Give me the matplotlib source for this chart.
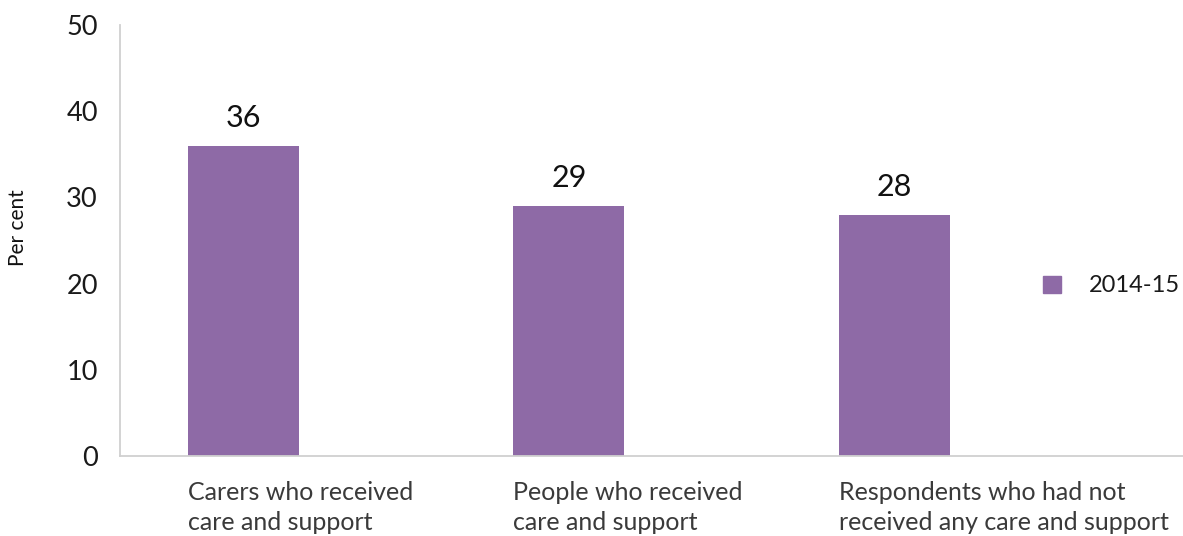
import matplotlib
matplotlib.use("Agg")
import matplotlib.pyplot as plt
from matplotlib.patches import Patch

categories = [
    "Carers who received\ncare and support",
    "People who received\ncare and support",
    "Respondents who had not\nreceived any care and support",
]
values = [36, 29, 28]
series_name = "2014-15"
y_ticks = [0, 10, 20, 30, 40, 50]

BAR_COLOR = "#8E6AA6"
AXIS_COLOR = "#D0D0D0"
FONT = "Lato"

W, H = 1183, 536
fig = plt.figure(figsize=(W / 100, H / 100), dpi=100)
# axes placed in pixel terms: left 120, right 1183, bottom 456, top 25
ax = fig.add_axes([120 / W, (H - 456) / H, (1183 - 120) / W, (456 - 25) / H])

x = list(range(len(categories)))
bar_w = 0.341
ax.bar(x, values, width=bar_w, color=BAR_COLOR, zorder=2)

ax.set_xlim(-0.379, 2.886)
ax.set_ylim(0, 50)
ax.set_yticks(y_ticks)
ax.set_yticklabels([str(t) for t in y_ticks], fontsize=19.5, family=FONT, color="#1a1a1a")
ax.tick_params(axis="y", length=0, pad=16)
ax.set_xticks([])

for s in ["top", "right"]:
    ax.spines[s].set_visible(False)
for s in ["left", "bottom"]:
    ax.spines[s].set_color(AXIS_COLOR)
    ax.spines[s].set_linewidth(1.3)

# value labels above bars
for xi, v in zip(x, values):
    ax.annotate(str(v), (xi, v), xytext=(0, 10), textcoords="offset points",
                ha="center", va="bottom", fontsize=22, family=FONT, color="#111111")

# category labels, left aligned with each bar's left edge
for xi, lab in zip(x, categories):
    ax.annotate(lab, (xi - bar_w / 2, 0), xytext=(0, -18), textcoords="offset points",
                ha="left", va="top", fontsize=18, family=FONT,
                color="#3a3a3a", linespacing=1.35, annotation_clip=False)

fig.text(18 / W, 1 - 228 / H, "Per cent", rotation=90, ha="center", va="center",
         fontsize=15, family=FONT, color="#111111")

leg = fig.legend(handles=[Patch(color=BAR_COLOR, label=series_name)],
                 loc="center left", bbox_to_anchor=(1043 / W, 1 - 286 / H),
                 frameon=False, prop={"family": FONT, "size": 17},
                 borderpad=0, borderaxespad=0,
                 handlelength=0.76, handleheight=0.76, handletextpad=1.2)
for t in leg.get_texts():
    t.set_color("#1a1a1a")

fig.savefig("out.png", dpi=100)
